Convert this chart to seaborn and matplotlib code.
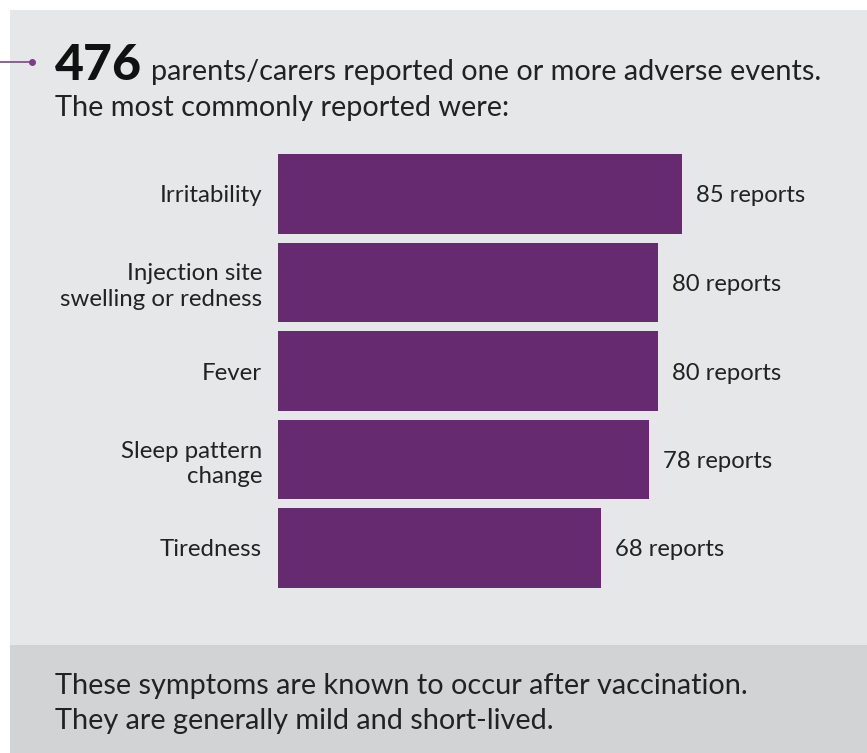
import matplotlib
matplotlib.use("Agg")
import matplotlib.pyplot as plt
import matplotlib.patches as mpatches
import seaborn as sns
import pandas as pd

categories = ["Irritability", "Injection site\nswelling or redness", "Fever",
              "Sleep pattern\nchange", "Tiredness"]
reports = [85, 80, 80, 78, 68]
value_labels = [f"{v} reports" for v in reports]

headline_number = "476"
headline_text = "parents/carers reported one or more adverse events."
headline_line2 = "The most commonly reported were:"
footer_lines = ["These symptoms are known to occur after vaccination.",
                "They are generally mild and short-lived."]

sns.set_theme(style="white")
plt.rcParams['font.family'] = ['Lato', 'DejaVu Sans']

W, H = 867, 753
fig = plt.figure(figsize=(W / 100, H / 100), dpi=100)
fig.patch.set_facecolor("white")

def fx(x): return x / W
def fy(y): return 1 - y / H

# panels
fig.patches.append(mpatches.Rectangle((fx(10), fy(645)), fx(W - 10), (635) / H,
                                      transform=fig.transFigure, facecolor="#e6e7e9",
                                      edgecolor="none", zorder=-2))
fig.patches.append(mpatches.Rectangle((fx(10), 0), fx(W - 10), 108 / H,
                                      transform=fig.transFigure, facecolor="#d2d3d5",
                                      edgecolor="none", zorder=-2))

purple = "#662a71"
# pointer line with dot
fig.add_artist(plt.Line2D([0, fx(31)], [fy(62), fy(62)], transform=fig.transFigure,
                          color="#7a4a84", lw=1.2))
fig.add_artist(plt.Line2D([fx(32)], [fy(62)], transform=fig.transFigure, marker="o",
                          markersize=4, color="#7a3f86"))

# headline
t = fig.text(fx(55), fy(80), headline_number, fontsize=36, fontweight="black",
             color="#111111", va="baseline", ha="left")
fig.canvas.draw()
bb = t.get_window_extent()
fig.text((bb.x1 + 9) / W, fy(80), headline_text, fontsize=20.8, color="#222222",
         va="baseline", ha="left")
fig.text(fx(55), fy(116), headline_line2, fontsize=20.8, color="#222222",
         va="baseline", ha="left")

for i, line in enumerate(footer_lines):
    fig.text(fx(55), fy(694 + i * 35), line, fontsize=20.8, color="#222222",
             va="baseline", ha="left")

# bars
ax = fig.add_axes([fx(278), 1 - 592.25 / H, 475.3 / W, 442.5 / H])
ax.set_facecolor("none")
df = pd.DataFrame({"category": categories, "reports": reports})
sns.barplot(data=df, y="category", x="reports", orient="h", color=purple,
            saturation=1, width=0.9, linewidth=0, edgecolor="none", ax=ax)
ax.set_xlim(0, 100)
ax.set_ylim(4.5, -0.5)
for s in ax.spines.values():
    s.set_visible(False)
ax.set_xticks([])
ax.set_xlabel("")
ax.set_ylabel("")
ax.tick_params(axis="y", length=0, pad=11.5, labelsize=17.3, labelcolor="#222222")
for lab in ax.get_yticklabels():
    lab.set_horizontalalignment("right")
    lab.set_multialignment("right")
    lab.set_linespacing(1.25)
for i, (v, lbl) in enumerate(zip(reports, value_labels)):
    ax.annotate(lbl, xy=(v, i), xytext=(10, 0), textcoords="offset points",
                va="center_baseline", ha="left", fontsize=17.2, color="#222222")

fig.savefig("out.png", dpi=100, facecolor=fig.get_facecolor())
